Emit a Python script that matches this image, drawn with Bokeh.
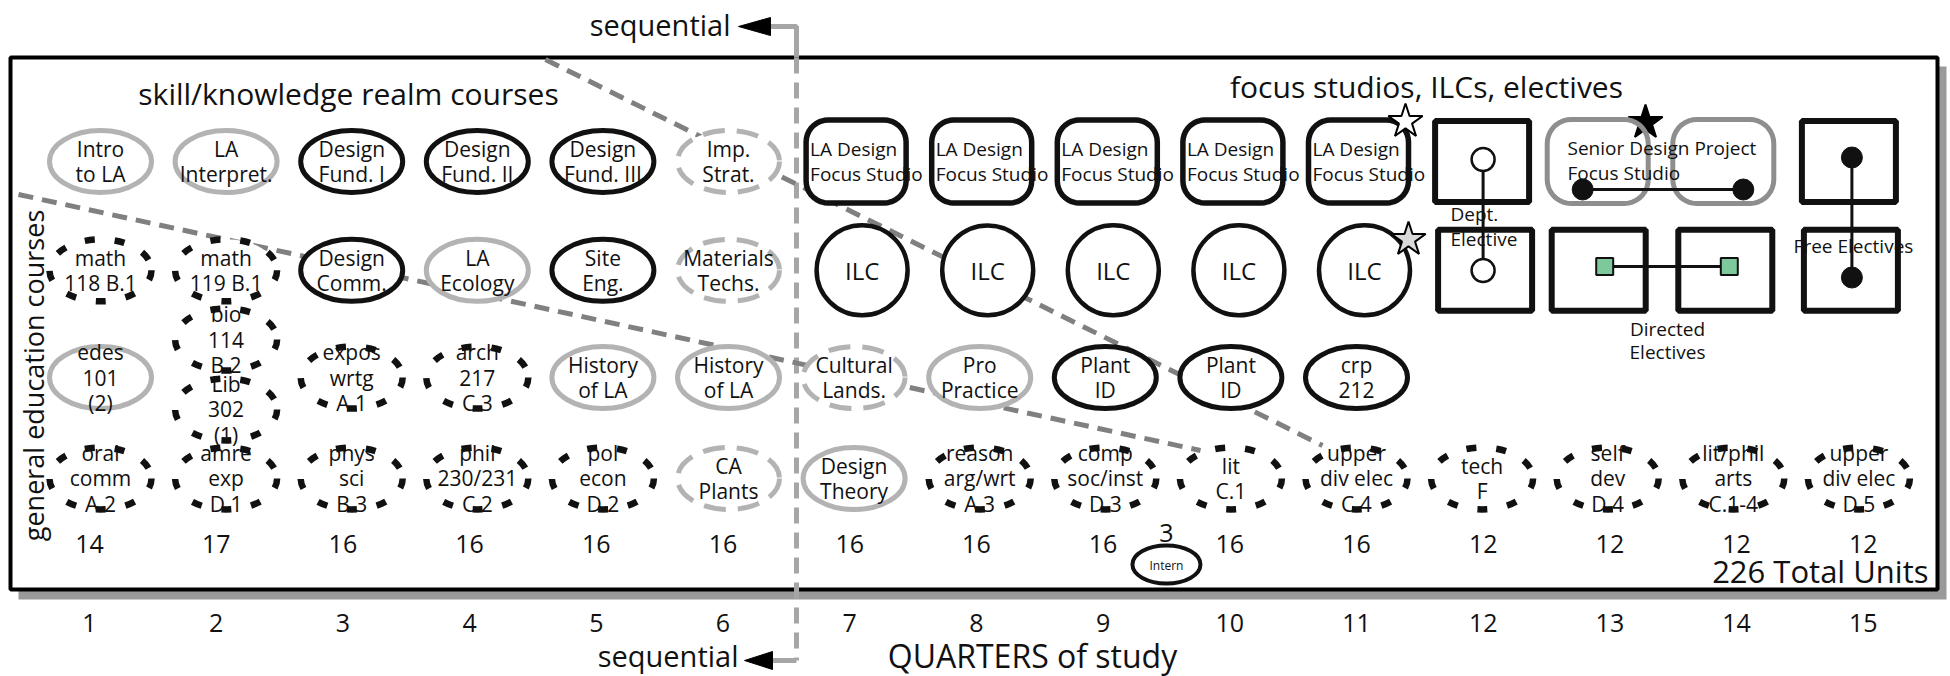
import numpy as np
from bokeh.plotting import figure
from bokeh.models import Range1d, ColumnDataSource
from bokeh.core.properties import value
from bokeh.embed import file_html
from bokeh.resources import INLINE

# ---------------- data ----------------
quarters = list(range(1, 16))
quarter_labels = [str(q) for q in quarters]
units = [14, 17, 16, 16, 16, 16, 16, 16, 16, 16, 16, 12, 12, 12, 12]
total_label = "226 Total Units"
intern_quarter = 9.5
intern_units = 3

course_quarter = [1, 1, 1, 1,
                  2, 2, 2, 2, 2,
                  3, 3, 3, 3,
                  4, 4, 4, 4,
                  5, 5, 5, 5,
                  6, 6, 6, 6,
                  7, 7, 8, 8, 9, 9, 10, 10, 11, 11,
                  12, 13, 14, 15]
course_row = ["A", "B", "C", "D",
              "A", "B", "BC", "CD", "D",
              "A", "B", "C", "D",
              "A", "B", "C", "D",
              "A", "B", "C", "D",
              "A", "B", "C", "D",
              "C", "D", "C", "D", "C", "D", "C", "D", "C", "D",
              "D", "D", "D", "D"]
course_label = ["Intro\nto LA", "math\n118 B.1", "edes\n101\n(2)", "oral\ncomm\nA.2",
                "LA\nInterpret.", "math\n119 B.1", "bio\n114\nB.2", "Lib\n302\n(1)", "amre\nexp\nD.1",
                "Design\nFund. I", "Design\nComm.", "expos\nwrtg\nA.1", "phys\nsci\nB.3",
                "Design\nFund. II", "LA\nEcology", "arch\n217\nC.3", "phil\n230/231\nC.2",
                "Design\nFund. III", "Site\nEng.", "History\nof LA", "pol\necon\nD.2",
                "Imp.\nStrat.", "Materials\nTechs.", "History\nof LA", "CA\nPlants",
                "Cultural\nLands.", "Design\nTheory", "Pro\nPractice", "reason\narg/wrt\nA.3",
                "Plant\nID", "comp\nsoc/inst\nD.3", "Plant\nID", "lit\nC.1",
                "crp\n212", "upper\ndiv elec\nC.4",
                "tech\nF", "self\ndev\nD.4", "lit/phil\narts\nC.1-4", "upper\ndiv elec\nD.5"]
course_style = ["gray", "dash", "gray", "dash",
                "gray", "dash", "dash", "dash", "dash",
                "black", "black", "dash", "dash",
                "black", "gray", "dash", "dash",
                "black", "black", "gray", "dash",
                "graydash", "graydash", "gray", "graydash",
                "graydash", "gray", "gray", "dash", "black", "dash", "black", "dash",
                "black", "dash",
                "dash", "dash", "dash", "dash"]

studio_quarters = [7, 8, 9, 10, 11]
studio_label = "LA Design\nFocus Studio"
ilc_quarters = [7, 8, 9, 10, 11]
dept_quarter = 12
senior_quarters = [13, 14]
directed_quarters = [13, 14]
free_quarter = 15

# ---------------- layout (page pixels -> data) ----------------
PX0, PXQ = 89.0, 126.7      # page x of quarter 1, pixels per quarter
PY0, PYR = 478.0, 105.67    # page y of row D, pixels per row unit
ROW_Y = {"A": 3.0, "B": 1.97, "BC": 1.315, "CD": 0.653, "C": 0.955, "D": 0.0}


def X(px):
    return 1 + (px - PX0) / PXQ


def Y(py):
    return (PY0 - py) / PYR


def W(px):
    return px / PXQ


def H(py):
    return py / PYR


def shape_x(q, dpx=0.0):
    return X(100 + (q - 1) * 125.6 + dpx)


def rrect(cx, cy, w, h, r, n=10):
    xs, ys = [], []
    corners = [(w / 2 - r, h / 2 - r, 0), (-(w / 2 - r), h / 2 - r, 90),
               (-(w / 2 - r), -(h / 2 - r), 180), (w / 2 - r, -(h / 2 - r), 270)]
    for ox, oy, a0 in corners:
        for t in np.radians(np.linspace(a0, a0 + 90, n)):
            xs.append(cx + (ox + r * np.cos(t)) / PXQ)
            ys.append(cy + (oy + r * np.sin(t)) / PYR)
    return xs, ys


FONT = value("Open Sans")
BLACK = "#111111"
LGRAY = "#b3b3b3"
DGRAY = "#808080"
SEQ = "#a6a6a6"

p = figure(width=1950, height=676, output_backend="svg", toolbar_location=None,
           x_range=Range1d(X(0), X(1950)), y_range=Range1d(Y(676), Y(0)),
           x_axis_type=None, y_axis_type=None, min_border=0,
           outline_line_color=None, background_fill_color="white")
p.grid.visible = False

# frame with shadow
p.quad(left=X(18), right=X(1946), top=Y(66), bottom=Y(599),
       fill_color="#9a9a9a", line_color=None)
p.quad(left=X(10), right=X(1937), top=Y(57), bottom=Y(589),
       fill_color="white", line_color="black", line_width=4)

# sequential divider
p.line([X(768), X(796), X(796)], [Y(26), Y(26), Y(57)], line_color=SEQ, line_width=5)
p.line([X(796), X(796)], [Y(57), Y(660)], line_color=SEQ, line_width=5, line_dash="16 9")
p.line([X(796), X(768)], [Y(660), Y(660)], line_color=SEQ, line_width=5)
p.patches([[X(738), X(770), X(770)], [X(744), X(772), X(772)]],
          [[Y(26), Y(17), Y(35)], [Y(660), Y(651), Y(669)]],
          fill_color="black", line_color="black")

# diagonal dashed guides
p.line([X(545), X(1322)], [Y(59), Y(445)], line_color=DGRAY, line_width=5, line_dash="15 9")
p.line([X(18), X(1200)], [Y(194), Y(450)], line_color=DGRAY, line_width=5, line_dash="15 9")

# courses
cx = [shape_x(q) for q in course_quarter]
cy = [ROW_Y[r] for r in course_row]
src = ColumnDataSource(dict(x=cx, y=cy, label=course_label, style=course_style))

styles = {
    "gray": dict(line_color=LGRAY, line_width=5),
    "black": dict(line_color=BLACK, line_width=5),
    "dash": dict(line_color=BLACK, line_width=6.5, line_dash="10 20"),
    "graydash": dict(line_color=LGRAY, line_width=5, line_dash="22 12"),
}
for st, kw in styles.items():
    idx = [i for i, s in enumerate(course_style) if s == st]
    sub = ColumnDataSource(dict(x=[cx[i] for i in idx], y=[cy[i] for i in idx]))
    p.ellipse("x", "y", width=W(102), height=H(62), fill_color="white", source=sub, **kw)

p.text("x", "y", text="label", source=src, text_font=FONT, text_font_size="21px",
       text_align="center", text_baseline="middle", text_line_height=0.9, text_color=BLACK)

# focus studios (rounded boxes)
sx, sy = [], []
for q in studio_quarters:
    xs, ys = rrect(shape_x(q, 2), ROW_Y["A"], 100, 83, 22)
    sx.append(xs)
    sy.append(ys)
p.patches(sx, sy, fill_color="white", line_color=BLACK, line_width=5.5)
p.text([shape_x(q, 2 - 46) for q in studio_quarters], [ROW_Y["A"]] * len(studio_quarters),
       text=[studio_label] * len(studio_quarters), text_font=FONT, text_font_size="19px",
       text_align="left", text_baseline="middle", text_line_height=0.95, text_color=BLACK)

# ILC circles
ilc_x = [shape_x(q, 8) for q in ilc_quarters]
p.ellipse(ilc_x, [ROW_Y["B"]] * len(ilc_quarters), width=W(91), height=H(90),
          fill_color="white", line_color=BLACK, line_width=4.5)
p.text(ilc_x, [ROW_Y["B"]] * len(ilc_quarters), text=["ILC"] * len(ilc_quarters),
       text_font=FONT, text_font_size="24px", text_align="center", text_baseline="middle",
       text_color=BLACK)

# stars
p.scatter([X(1405), X(1408), X(1645)], [Y(121), Y(239), Y(122)], marker="star", size=36,
          fill_color=["white", "#d9d9d9", "black"], line_color="black", line_width=2)

# senior design project (gray rounded boxes)
gx, gy = [], []
for q in senior_quarters:
    xs, ys = rrect(shape_x(q, -10), ROW_Y["A"], 101, 84, 24)
    gx.append(xs)
    gy.append(ys)
p.patches(gx, gy, fill_color=None, line_color="#8e8e8e", line_width=5)

# elective squares
sq_x = [shape_x(dept_quarter, 0), shape_x(dept_quarter, 3),
        shape_x(directed_quarters[0], -9), shape_x(directed_quarters[1], -8),
        shape_x(free_quarter, -10), shape_x(free_quarter, -8)]
sq_y = [ROW_Y["A"], ROW_Y["B"], ROW_Y["B"], ROW_Y["B"], ROW_Y["A"], ROW_Y["B"]]
p.rect(sq_x, sq_y, width=W(94), height=H(81), fill_color="white",
       line_color=BLACK, line_width=6)

# connectors
dx = shape_x(dept_quarter, 1)
p.line([dx, dx], [Y(159), Y(270)], line_color=BLACK, line_width=3)
p.scatter([dx, dx], [Y(159), Y(270)], marker="circle", size=23,
          fill_color="white", line_color=BLACK, line_width=2.5)

s0, s1 = shape_x(senior_quarters[0], -25), shape_x(senior_quarters[1], 10)
p.line([s0, s1], [Y(189), Y(189)], line_color=BLACK, line_width=3)
p.scatter([s0, s1], [Y(189), Y(189)], marker="circle", size=21, fill_color=BLACK, line_color=BLACK)

d0, d1 = shape_x(directed_quarters[0], -3), shape_x(directed_quarters[1], -4)
p.line([d0, d1], [Y(266), Y(266)], line_color=BLACK, line_width=3)
p.scatter([d0, d1], [Y(266), Y(266)], marker="square", size=17,
          fill_color="#7ec99b", line_color=BLACK, line_width=2)

fx = shape_x(free_quarter, -7)
p.line([fx, fx], [Y(157), Y(277)], line_color=BLACK, line_width=3)
p.scatter([fx, fx], [Y(157), Y(277)], marker="circle", size=21, fill_color=BLACK, line_color=BLACK)

# elective labels
p.text([X(1450), X(1567)], [Y(226), Y(160)],
       text=["Dept.\nElective", "Senior Design Project\nFocus Studio"],
       text_font=FONT, text_font_size="19px", text_align="left", text_baseline="middle",
       text_line_height=0.95, text_color=BLACK)
p.text([X(1667), X(1853)], [Y(340), Y(245)],
       text=["Directed\nElectives", "Free Electives"],
       text_font=FONT, text_font_size="19px", text_align="center", text_baseline="middle",
       text_line_height=0.92, text_color=BLACK)

# units per quarter
p.text(quarters, [Y(543)] * 15, text=[str(u) for u in units], text_font=FONT,
       text_font_size="25px", text_align="center", text_baseline="middle", text_color=BLACK)
# intern
p.ellipse([intern_quarter], [Y(564)], width=W(68), height=H(38), fill_color="white",
          line_color=BLACK, line_width=4)
p.text([intern_quarter], [Y(565)], text=["Intern"], text_font=FONT, text_font_size="12px",
       text_align="center", text_baseline="middle", text_color=BLACK)
p.text([intern_quarter], [Y(532)], text=[str(intern_units)], text_font=FONT,
       text_font_size="25px", text_align="center", text_baseline="middle", text_color=BLACK)

p.text([X(1928)], [Y(570)], text=[total_label], text_font=FONT, text_font_size="31px",
       text_align="right", text_baseline="middle", text_color=BLACK)

# quarter numbers (x axis)
p.text(quarters, [Y(622)] * 15, text=quarter_labels, text_font=FONT, text_font_size="25px",
       text_align="center", text_baseline="middle", text_color=BLACK)

# titles and annotations
p.text([X(348), X(1426)], [Y(93), Y(86)],
       text=["skill/knowledge realm courses", "focus studios, ILCs, electives"],
       text_font=FONT, text_font_size="30px", text_align="center", text_baseline="middle",
       text_color=BLACK)
p.text([X(33)], [Y(375)], text=["general education courses"], angle=np.pi / 2,
       text_font=FONT, text_font_size="27px", text_align="center", text_baseline="middle",
       text_color=BLACK)
p.text([X(730), X(738)], [Y(24), Y(655)], text=["sequential", "sequential"],
       text_font=FONT, text_font_size="29px", text_align="right", text_baseline="middle",
       text_color=BLACK)
p.text([X(1032)], [Y(655)], text=["QUARTERS of study"], text_font=FONT,
       text_font_size="32px", text_align="center", text_baseline="middle", text_color=BLACK)

open("out.html", "w").write(file_html(p, INLINE))
